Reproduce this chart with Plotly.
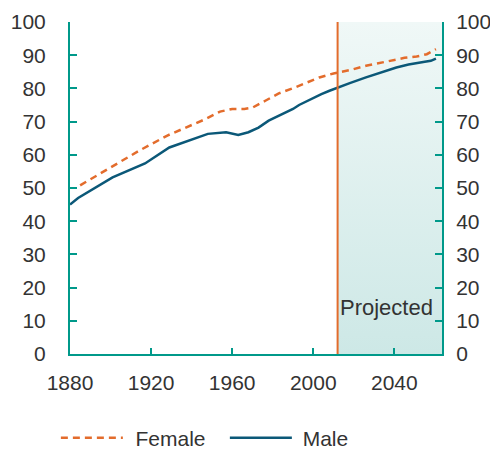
import plotly.graph_objects as go

female_years = [1885, 1900, 1914, 1928, 1936, 1947, 1954, 1960, 1966, 1970, 1977, 1983, 1991, 1998, 2003,
                2010, 2018, 2026, 2032, 2039, 2045, 2051, 2056, 2060.5]
female = [50.8, 56.2, 61.2, 65.8, 68, 70.8, 73, 73.8, 73.8, 74.2, 76.5, 78.5, 80.3, 82, 83.3,
          84.5, 85.5, 86.8, 87.6, 88.5, 89.2, 89.6, 90.3, 91.8]

male_years = [1880, 1884, 1901, 1917, 1929, 1937, 1948, 1957, 1963, 1968, 1973, 1978, 1984, 1990, 1993,
              1998, 2004, 2008, 2012, 2018, 2026, 2033, 2041, 2047, 2051, 2055, 2058, 2060.5]
male = [45, 47, 53.2, 57.4, 62.2, 64, 66.3, 66.8, 66, 66.8, 68.2, 70.3, 72, 73.8, 75,
        76.6, 78.3, 79.3, 80.3, 81.6, 83.3, 84.8, 86.3, 87.2, 87.7, 88, 88.3, 89]

projection_start = 2012
x_end = 2063.5
x_ticks = [1880, 1920, 1960, 2000, 2040]
y_ticks = [0, 10, 20, 30, 40, 50, 60, 70, 80, 90, 100]

TEAL = "#00998a"
ORANGE = "#e36c2c"
NAVY = "#0b5878"
TXT = "#333333"
FONT = "Liberation Sans"

fig = go.Figure()

# projected shaded region with vertical gradient
fig.add_trace(go.Scatter(
    x=[projection_start, x_end, x_end, projection_start, projection_start],
    y=[0, 0, 100, 100, 0],
    fill="toself", mode="lines", line=dict(width=0),
    fillgradient=dict(type="vertical", colorscale=[[0, "#cde8e6"], [1, "#f0f8f7"]]),
    hoverinfo="skip", showlegend=False,
))

fig.add_trace(go.Scatter(
    x=female_years, y=female, mode="lines", name="\u00a0\u200aFemale",
    line=dict(color=ORANGE, width=2.5, dash="7px,5px"),
))
fig.add_trace(go.Scatter(
    x=male_years, y=male, mode="lines", name="\u00a0Male",
    line=dict(color=NAVY, width=2.5),
))
# invisible trace to activate right axis
fig.add_trace(go.Scatter(x=[1880], y=[0], yaxis="y2", mode="markers",
                         marker=dict(opacity=0), hoverinfo="skip", showlegend=False))

fig.add_shape(type="line", x0=projection_start, x1=projection_start, y0=0, y1=100,
              xref="x", yref="y", line=dict(color=ORANGE, width=2))

fig.add_annotation(x=projection_start, y=14, xref="x", yref="y", text="Projected",
                   showarrow=False, xanchor="left", yanchor="middle", xshift=0,
                   font=dict(family=FONT, size=22, color=TXT))

axis_common = dict(
    showgrid=False, zeroline=False, showline=True, linecolor=TEAL, linewidth=2,
    ticks="inside", tickcolor=TEAL, tickwidth=2, automargin=False,
    tickfont=dict(family=FONT, size=21, color=TXT),
)

# page body has an 8px margin, so the figure is 8px smaller in each direction
fig.update_layout(
    width=490, height=442,
    margin=dict(l=62, r=56, t=14, b=96, autoexpand=False),
    plot_bgcolor="white", paper_bgcolor="white",
    xaxis=dict(range=[1880, x_end], tickvals=x_ticks, ticklen=6, ticklabelstandoff=9, **axis_common),
    yaxis=dict(range=[0, 100], tickvals=y_ticks, ticklen=7, ticklabelstandoff=18, **axis_common),
    yaxis2=dict(range=[0, 100], tickvals=y_ticks, ticklen=7, overlaying="y", side="right",
                ticklabelstandoff=8, **axis_common),
    legend=dict(orientation="h", x=-0.038, xanchor="left", y=-0.253, yanchor="middle",
                font=dict(family=FONT, size=21, color=TXT), itemwidth=62,
                entrywidth=92, entrywidthmode="pixels"),
    showlegend=True,
)

fig.write_html("out.html")
